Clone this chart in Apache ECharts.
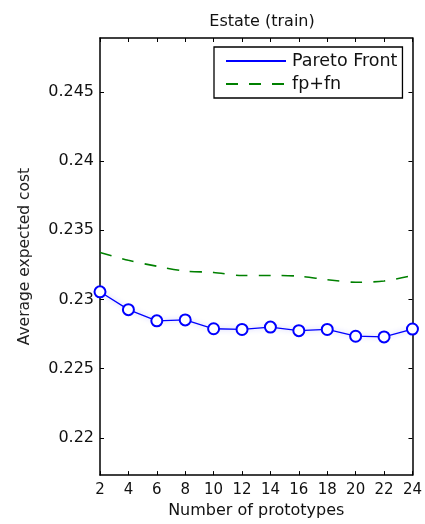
<!DOCTYPE html>
<html>
<head>
<meta charset="utf-8">
<script src="https://cdn.jsdelivr.net/npm/echarts@6/dist/echarts.min.js"></script>
<style>html,body{margin:0;padding:0;background:#fff}#c{width:425px;height:524px}</style>
</head>
<body>
<div id="c"></div>
<script>
var prototypes = [2, 4, 6, 8, 10, 12, 14, 16, 18, 20, 22, 24];
var paretoFront = [0.23055, 0.22926, 0.22845, 0.22852, 0.22788, 0.22783, 0.2280, 0.22774, 0.22783, 0.22734, 0.22729, 0.22786];
var fpfn = [0.2334, 0.23283, 0.2324, 0.23205, 0.23195, 0.23173, 0.23173, 0.23168, 0.23143, 0.23124, 0.23133, 0.23173];
var yTicks = [0.22, 0.225, 0.23, 0.235, 0.24, 0.245];
var yTickLabels = ['0.22', '0.225', '0.23', '0.235', '0.24', '0.245'];

var font = 'DejaVu Sans, Liberation Sans, sans-serif';
var chart = echarts.init(document.getElementById('c'), null, {renderer: 'canvas'});
function pairs(xs, ys) { return xs.map(function (x, i) { return [x, ys[i]]; }); }

chart.setOption({
  animation: false,
  backgroundColor: '#fff',
  title: {
    text: 'Estate (train)', left: 257, top: 9, textAlign: 'center',
    textStyle: {fontFamily: font, fontSize: 16, fontWeight: 'normal', color: '#111'}
  },
  grid: {left: 100, right: 11, top: 38, bottom: 47, containLabel: false},
  legend: {
    orient: 'vertical', left: 214, top: 47,
    borderColor: '#000', borderWidth: 1.3, borderRadius: 0,
    padding: [5, 5, 5, 11], itemGap: 5,
    itemWidth: 60, itemHeight: 2,
    itemStyle: {opacity: 0},
    textStyle: {fontFamily: font, fontSize: 17.5, lineHeight: 17, color: '#111', padding: [1, 0, 0, 1]},
    data: ['Pareto Front', 'fp+fn']
  },
  xAxis: [{
    type: 'value', min: 2, max: 24, interval: 2,
    name: 'Number of prototypes', nameLocation: 'middle', nameGap: 24,
    nameTextStyle: {fontFamily: font, fontSize: 16, color: '#111'},
    axisLine: {lineStyle: {color: '#000', width: 1.5}},
    axisTick: {inside: true, length: 4, lineStyle: {color: '#000'}},
    axisLabel: {fontFamily: font, fontSize: 15, color: '#111', margin: 8},
    splitLine: {show: false}
  }, {
    type: 'value', position: 'top', min: 2, max: 24, interval: 2,
    axisLine: {show: true, lineStyle: {color: '#000', width: 1.5}},
    axisTick: {inside: true, length: 4, lineStyle: {color: '#000'}},
    axisLabel: {show: false}, splitLine: {show: false}
  }],
  yAxis: [{
    type: 'value', min: 0.2173, max: 0.2489,
    name: 'Average expected cost', nameLocation: 'middle', nameGap: 67,
    nameTextStyle: {fontFamily: font, fontSize: 15.5, color: '#222'},
    axisLine: {show: true, lineStyle: {color: '#000', width: 1.5}},
    axisTick: {inside: true, length: 4, customValues: yTicks, lineStyle: {color: '#000'}},
    axisLabel: {
      fontFamily: font, fontSize: 16, color: '#111', margin: 6,
      customValues: yTicks,
      formatter: function (v) {
        for (var i = 0; i < yTicks.length; i++) if (Math.abs(yTicks[i] - v) < 1e-9) return yTickLabels[i];
        return '';
      }
    },
    splitLine: {show: false}
  }, {
    type: 'value', position: 'right', min: 0.2173, max: 0.2489,
    axisLine: {show: true, lineStyle: {color: '#000', width: 1.5}},
    axisTick: {inside: true, length: 4, customValues: yTicks, lineStyle: {color: '#000'}},
    axisLabel: {show: false}, splitLine: {show: false}
  }],
  series: [{
    name: 'Pareto Front', type: 'line',
    data: pairs(prototypes, paretoFront),
    symbol: 'emptyCircle', symbolSize: 11,
    lineStyle: {color: '#0000ff', width: 1.3, shadowColor: 'rgba(80,80,255,0.4)', shadowBlur: 5},
    itemStyle: {color: '#0000ff', borderWidth: 1.3}
  }, {
    name: 'fp+fn', type: 'line',
    data: pairs(prototypes, fpfn),
    showSymbol: false, symbol: 'none', smooth: 0.3,
    lineStyle: {color: '#008000', width: 1.6, type: [12, 11]},
    itemStyle: {color: '#008000'}
  }]
});
</script>
</body>
</html>
